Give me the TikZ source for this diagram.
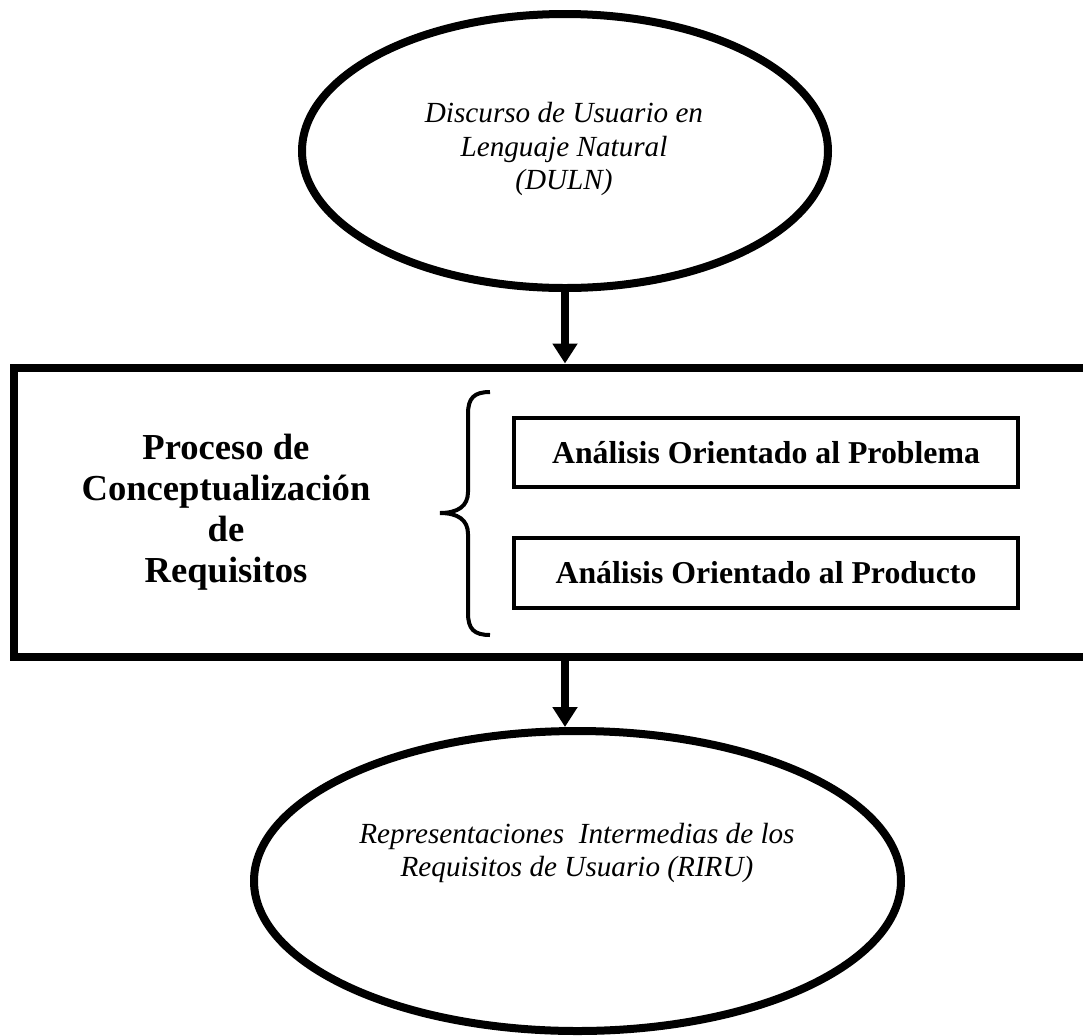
\documentclass[tikz,border=0pt]{standalone}
\usepackage{fontspec}
\setmainfont{Liberation Serif}
\usetikzlibrary{arrows.meta,shapes.geometric}
\begin{document}
\begin{tikzpicture}[x=0.5pt,y=-0.5pt,
  oval/.style={ellipse,draw,line width=4pt,inner sep=0pt},
  ovaltext/.style={align=center,inner sep=0pt,font=\fontsize{14.6}{16.8}\selectfont\itshape},
  bigbox/.style={rectangle,draw,line width=4pt,inner sep=0pt},
  subbox/.style={rectangle,draw,line width=1.75pt,inner sep=0pt,minimum width=252pt,
    font=\fontsize{15.9}{18}\selectfont\bfseries},
  title/.style={align=center,inner sep=0pt,font=\fontsize{18.3}{20.5}\selectfont\bfseries},
  flow/.style={line width=3.6pt,-{Triangle[length=10pt,width=12pt]}},
  bracestroke/.style={line width=2pt}
]
\useasboundingbox (0,0) rectangle (1083,1035);

\node[oval,minimum width=263pt,minimum height=137pt] (duln) at (565,151) {};
\node[ovaltext] (dulnText) at (564,149)
  {Discurso de Usuario en\\Lenguaje Natural\\(DULN)};

\node[bigbox,minimum width=543.5pt,minimum height=144.5pt] (proc) at (557,512) {};

\node[title] (lbl) at (226,512) {Proceso de\\Conceptualización\\de\\Requisitos};

\node[subbox,minimum height=34.5pt] (prob) at (766,452.5) {Análisis Orientado al Problema};
\node[subbox,minimum height=35pt] (prod) at (766,573) {Análisis Orientado al Producto};

\node[oval,minimum width=323.5pt,minimum height=150pt] (riru) at (577.5,881) {};
\node[ovaltext] (riruText) at (577,853)
  {Representaciones~ Intermedias de los\\Requisitos de Usuario (RIRU)};

\draw[bracestroke] (490,392) .. controls (474,392) and (468,398) .. (468,414)
  -- (468,492) .. controls (468,506) and (458,513) .. (440,513)
  .. controls (458,513) and (468,520) .. (468,534)
  -- (468,613) .. controls (468,629) and (474,635) .. (490,635);

\draw[flow] (duln.south) -- (duln.south |- proc.north);
\coordinate (a2) at (duln.south |- proc.south);
\draw[flow] (a2) -- (a2 |- riru.north);
\end{tikzpicture}
\end{document}
